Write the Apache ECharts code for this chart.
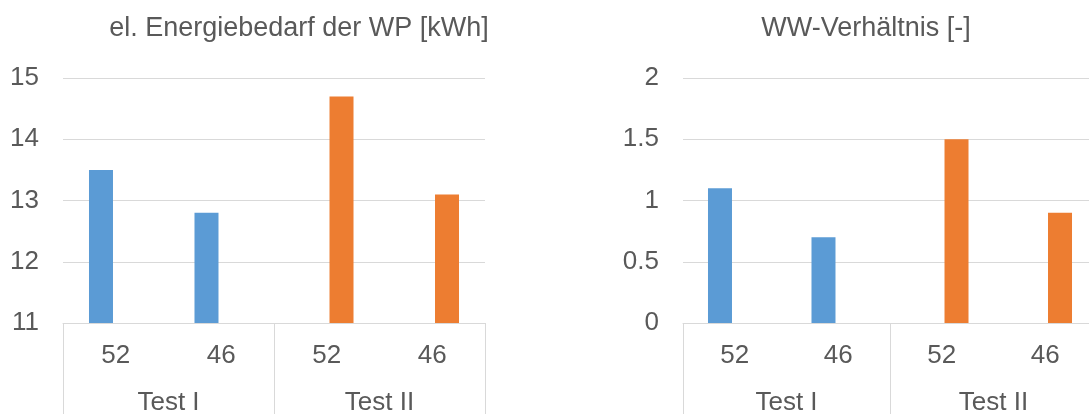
<!DOCTYPE html>
<html>
<head>
<meta charset="utf-8">
<script src="https://cdn.jsdelivr.net/npm/echarts@6/dist/echarts.min.js"></script>
<style>
  html, body { margin: 0; padding: 0; background: #fff; }
  #chart { width: 1089px; height: 414px; }
</style>
</head>
<body>
<div id="chart"></div>
<script>
// Supply temperature per test (inner axis level) and test groups (outer level)
const categories = ['52', '46', '52', '46'];
const groups = ['Test I', 'Test II'];

// Electrical energy demand of the heat pump [kWh]
const energyTestI = [13.5, 12.8, null, null];
const energyTestII = [null, null, 14.7, 13.1];

// Hot water ratio [-]
const ratioTestI = [1.1, 0.7, null, null];
const ratioTestII = [null, null, 1.5, 0.9];

const titles = ['el. Energiebedarf der WP [kWh]', 'WW-Verhältnis [-]'];

const FONT = 'Liberation Sans, Arial, sans-serif';
const TEXT = '#595959';
const LINE = '#D9D9D9';
const BLUE = '#5B9BD5';
const ORANGE = '#ED7D31';
const FS = 26;
const TITLE_FS = 27;

const chart = echarts.init(document.getElementById('chart'));

function innerAxis(gridIndex) {
  return {
    type: 'category', gridIndex, data: categories, position: 'bottom',
    axisLine: { show: true, lineStyle: { color: LINE, width: 1 } },
    axisTick: { show: false },
    axisLabel: { color: TEXT, fontFamily: FONT, fontSize: FS, margin: 20, interval: 0 },
    splitLine: { show: false }
  };
}
function outerAxis(gridIndex) {
  return {
    type: 'category', gridIndex, data: groups, position: 'bottom',
    axisLine: { show: false },
    axisTick: { show: true, interval: 0, length: 95, lineStyle: { color: LINE, width: 1 } },
    axisLabel: { color: TEXT, fontFamily: FONT, fontSize: FS, margin: 67, interval: 0 },
    splitLine: { show: false }
  };
}
function valueAxis(gridIndex, min, max, interval) {
  return {
    type: 'value', gridIndex, min, max, interval,
    axisLine: { show: false }, axisTick: { show: false },
    axisLabel: { color: TEXT, fontFamily: FONT, fontSize: FS, margin: 24 },
    splitLine: { lineStyle: { color: LINE, width: 1 } }
  };
}
function bar(name, data, color, xi, yi) {
  return {
    type: 'bar', name, data, xAxisIndex: xi, yAxisIndex: yi,
    barWidth: 24, barGap: '23%',
    itemStyle: { color }
  };
}

chart.setOption({
  animation: false,
  backgroundColor: '#fff',
  title: [
    { text: titles[0], left: 294, top: 10, textAlign: 'center',
      textStyle: { color: TEXT, fontFamily: FONT, fontSize: TITLE_FS, fontWeight: 'normal' } },
    { text: titles[1], left: 861, top: 10, textAlign: 'center',
      textStyle: { color: TEXT, fontFamily: FONT, fontSize: TITLE_FS, fontWeight: 'normal' } }
  ],
  grid: [
    { left: 63, top: 78, width: 422, height: 245, outerBoundsMode: 'none' },
    { left: 683, top: 78, width: 414, height: 245, outerBoundsMode: 'none' }
  ],
  xAxis: [innerAxis(0), outerAxis(0), innerAxis(1), outerAxis(1)],
  yAxis: [valueAxis(0, 11, 15, 1), valueAxis(1, 0, 2, 0.5)],
  series: [
    bar('Test I', energyTestI, BLUE, 0, 0),
    bar('Test II', energyTestII, ORANGE, 0, 0),
    bar('Test I', ratioTestI, BLUE, 2, 1),
    bar('Test II', ratioTestII, ORANGE, 2, 1)
  ]
});
</script>
</body>
</html>
